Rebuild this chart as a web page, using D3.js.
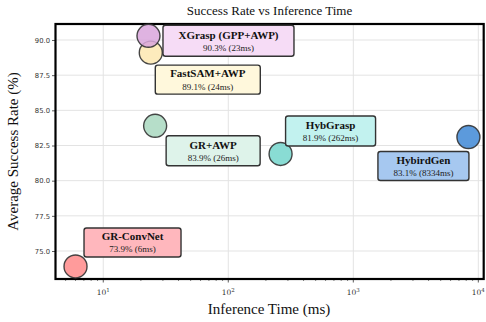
<!DOCTYPE html>
<html>
<head>
<meta charset="utf-8">
<script src="https://cdn.jsdelivr.net/npm/d3@7"></script>
<style>
  html, body { margin: 0; padding: 0; background: #fff; }
  svg { display: block; }
</style>
</head>
<body>
<svg id="chart" width="486" height="322"></svg>
<script>
// Model comparison: success rate vs inference time
const models      = ["GR-ConvNet", "GR+AWP", "FastSAM+AWP", "XGrasp (GPP+AWP)", "HybGrasp", "HybirdGen"];
const timesMs     = [6, 26, 24, 23, 262, 8334];
const successRate = [73.9, 83.9, 89.1, 90.3, 81.9, 83.1];
const pointColors = ["#ff8a8a", "#a9d8c0", "#fde8b0", "#d9a6dc", "#74d6cc", "#3f88d6"];
const boxColors   = ["#ffb7bd", "#def3ea", "#fff8dc", "#f6dcf6", "#c2f2ef", "#a6c8f0"];

const yTicks = [75.0, 77.5, 80.0, 82.5, 85.0, 87.5, 90.0];
const xTicks = [10, 100, 1000, 10000];

// Annotation box layout: offset of box centre from its point, and box size
const labelLayout = [
  { dx: 57,  dy: -24, w: 97,  h: 29 },
  { dx: 58,  dy: 25,  w: 94,  h: 30 },
  { dx: 57,  dy: 27,  w: 105, h: 29 },
  { dx: 80,  dy: 5,   w: 131, h: 31 },
  { dx: 50,  dy: -23, w: 90,  h: 30 },
  { dx: -45, dy: 29,  w: 91,  h: 29 }
];

const svg = d3.select("#chart");
const plot = { left: 55.5, right: 483.7, top: 24, bottom: 279 };

const x = d3.scaleLog().domain([4.15, 11040]).range([plot.left, plot.right]);
const y = d3.scaleLinear().domain([73.01, 91.137]).range([plot.bottom, plot.top]);

// Grid
const grid = svg.append("g");
grid.selectAll("line.gx").data(xTicks.filter(t => t < 11040)).join("line")
  .attr("x1", d => x(d)).attr("x2", d => x(d))
  .attr("y1", plot.top).attr("y2", plot.bottom)
  .attr("stroke", "#e3e3e3").attr("stroke-width", 1);
grid.selectAll("line.gy").data(yTicks).join("line")
  .attr("x1", plot.left).attr("x2", plot.right)
  .attr("y1", d => y(d)).attr("y2", d => y(d))
  .attr("stroke", "#e3e3e3").attr("stroke-width", 1);

// Y axis
const yAxis = svg.append("g")
  .attr("transform", `translate(${plot.left},0)`)
  .call(d3.axisLeft(y).tickValues(yTicks).tickFormat(d3.format(".1f")).tickSize(3.5).tickPadding(2));
yAxis.select(".domain").remove();
yAxis.selectAll("text").attr("font-family", "DejaVu Sans").attr("font-size", 6.8).attr("fill", "#333");
yAxis.selectAll(".tick line").attr("stroke", "#333").attr("stroke-width", 0.8);

// X axis (log) with minor ticks
const minor = [];
for (let e = 0; e <= 4; e++) {
  for (let m = 2; m <= 9; m++) {
    const v = m * Math.pow(10, e);
    if (v > 4.15 && v < 11040) minor.push(v);
  }
}
const xg = svg.append("g").attr("transform", `translate(0,${plot.bottom})`);
xg.selectAll("line.minor").data(minor).join("line")
  .attr("x1", d => x(d)).attr("x2", d => x(d))
  .attr("y1", 0).attr("y2", 2)
  .attr("stroke", "#333").attr("stroke-width", 0.6);
xg.selectAll("line.major").data(xTicks).join("line")
  .attr("x1", d => x(d)).attr("x2", d => x(d))
  .attr("y1", 0).attr("y2", 3.5)
  .attr("stroke", "#333").attr("stroke-width", 0.8);
const xl = xg.selectAll("text.xt").data(xTicks).join("text")
  .attr("x", d => x(d)).attr("y", 16)
  .attr("text-anchor", "middle")
  .attr("font-family", "DejaVu Serif").attr("font-size", 7.5).attr("fill", "#333");
xl.append("tspan").text("10");
xl.append("tspan").attr("dy", -3.5).attr("font-size", 5.5).text(d => Math.round(Math.log10(d)));

// Frame
svg.append("rect")
  .attr("x", plot.left).attr("y", plot.top)
  .attr("width", plot.right - plot.left).attr("height", plot.bottom - plot.top)
  .attr("fill", "none").attr("stroke", "#000").attr("stroke-width", 2.2);

// Points
const idx = d3.range(models.length);
svg.append("g").selectAll("circle").data(idx).join("circle")
  .attr("cx", i => x(timesMs[i]))
  .attr("cy", i => y(successRate[i]))
  .attr("r", 11.5)
  .attr("fill", i => pointColors[i])
  .attr("fill-opacity", 0.85)
  .attr("stroke", "#333").attr("stroke-opacity", 0.9).attr("stroke-width", 1.4);

// Annotation boxes
const ann = svg.append("g").selectAll("g").data(idx).join("g")
  .attr("transform", i => {
    const L = labelLayout[i];
    return `translate(${x(timesMs[i]) + L.dx},${y(successRate[i]) + L.dy})`;
  });
ann.append("rect")
  .attr("x", i => -labelLayout[i].w / 2).attr("y", i => -labelLayout[i].h / 2)
  .attr("width", i => labelLayout[i].w).attr("height", i => labelLayout[i].h)
  .attr("rx", 2.5)
  .attr("fill", i => boxColors[i])
  .attr("stroke", "#333").attr("stroke-width", 1.4);
ann.append("text")
  .attr("y", -2.2).attr("text-anchor", "middle")
  .attr("font-family", "Liberation Serif").attr("font-weight", "bold").attr("font-size", 11)
  .attr("fill", "#111")
  .text(i => models[i]);
ann.append("text")
  .attr("y", 10).attr("text-anchor", "middle")
  .attr("font-family", "Liberation Serif").attr("font-size", 9)
  .attr("fill", "#222")
  .text(i => `${successRate[i].toFixed(1)}% (${timesMs[i]}ms)`);

// Titles
svg.append("text")
  .attr("x", 269.5).attr("y", 14.5).attr("text-anchor", "middle")
  .attr("font-family", "Liberation Serif").attr("font-size", 13).attr("fill", "#111")
  .text("Success Rate vs Inference Time");
svg.append("text")
  .attr("x", 269).attr("y", 314).attr("text-anchor", "middle")
  .attr("font-family", "Liberation Serif").attr("font-size", 15).attr("fill", "#111")
  .text("Inference Time (ms)");
svg.append("text")
  .attr("transform", `translate(18,${(plot.top + plot.bottom) / 2}) rotate(-90)`)
  .attr("text-anchor", "middle")
  .attr("font-family", "Liberation Serif").attr("font-size", 15).attr("fill", "#111")
  .text("Average Success Rate (%)");
</script>
</body>
</html>
